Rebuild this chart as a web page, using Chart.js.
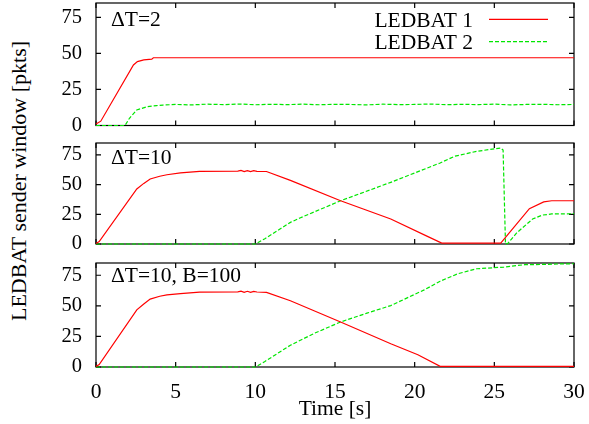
<!DOCTYPE html>
<html>
<head>
<meta charset="utf-8">
<script src="https://cdn.jsdelivr.net/npm/chart.js@4.4.1/dist/chart.umd.min.js"></script>
<style>
html, body { margin:0; padding:0; width:589px; height:424px; overflow:hidden; background:#fff; }
body { position:relative; }
.panel { position:absolute; left:0; width:620px; }
#ytitle { position:absolute; left:19px; top:181px; font-family:'Liberation Serif','Times New Roman',serif; font-size:22px; line-height:1; white-space:nowrap; color:#000; transform:translate(-50%,-50%) rotate(-90deg); }
</style>
</head>
<body>
<div id="ytitle">LEDBAT sender window [pkts]</div>
<div class="panel" id="d1" style="top:-27px;height:183px"><canvas id="c1"></canvas></div>
<div class="panel" id="d2" style="top:113px;height:161px"><canvas id="c2"></canvas></div>
<div class="panel" id="d3" style="top:233px;height:191px"><canvas id="c3"></canvas></div>
<script>
// ---------------- data ----------------
const seriesNames = ['LEDBAT 1', 'LEDBAT 2'];
const panelLabels = ['\u0394T=2', '\u0394T=10', '\u0394T=10, B=100'];
const xTickVals = [0, 5, 10, 15, 20, 25, 30];
const yTickVals = [0, 25, 50, 75];

// Panel 1: dT=2
const p1RedT = [0, 0.3, 2.35, 2.6, 3.0, 3.5, 3.6, 30];
const p1RedV = [1, 3, 42, 44.3, 45.5, 46, 47, 47];
const p1GreenT = [0, 1.82, 2.1, 2.56, 3.2, 3.8, 4.2, 5, 6, 7, 8, 9, 10, 11, 12, 13, 14, 15, 16, 17, 18, 19, 20, 21, 22, 23, 24, 25, 26, 27, 28, 29, 30];
const p1GreenV = [0, 0, 5, 10.8, 13, 13.8, 14.2, 14.6, 14.3, 14.8, 14.5, 14.9, 14.4, 14.7, 14.5, 14.8, 14.4, 14.7, 14.6, 14.3, 14.8, 14.5, 14.6, 14.9, 14.4, 14.7, 14.5, 14.8, 14.3, 14.6, 14.7, 14.4, 14.6];

// Panel 2: dT=10
const p2RedT = [0, 0.2, 2.56, 3.0, 3.4, 4.0, 4.45, 5.3, 6.5, 8.9, 9.1, 9.3, 9.5, 9.7, 9.9, 10.1, 10.7, 12.2, 15.35, 18.5, 20.8, 21.7, 25.4, 27.2, 28.1, 28.6, 30];
const p2RedV = [0.5, 2, 46.3, 51, 54.7, 57, 58.3, 59.8, 61.1, 61.3, 61.9, 60.9, 61.8, 60.9, 61.7, 61.2, 61, 53.5, 36.4, 21, 6.4, 0.8, 0.8, 29.7, 35.4, 36.4, 36.4];
const p2GreenT = [0, 10.0, 10.6, 12.2, 12.8, 15.35, 18.5, 21.6, 22.5, 23.9, 25.4, 25.55, 25.7, 25.85, 26.4, 27.4, 28.0, 28.6, 30];
const p2GreenV = [0, 0, 4.5, 18.2, 21.9, 36.4, 51.9, 68.2, 73.8, 78, 80.8, 79, 0, 0.5, 9.3, 21, 24.3, 25.3, 25.5];

// Panel 3: dT=10, B=100
const p3RedT = [0, 0.2, 2.56, 3.0, 3.4, 4.0, 4.45, 5.3, 6.5, 8.9, 9.1, 9.3, 9.5, 9.7, 9.9, 10.1, 10.7, 12.2, 15.35, 18.5, 20.2, 21.6, 30];
const p3RedV = [0.5, 2, 46.7, 51.5, 55.5, 57.8, 59, 60, 61.2, 61.4, 62, 61, 61.9, 61, 61.8, 61.3, 61, 54.1, 36.8, 19, 10, 0.5, 0.5];
const p3GreenT = [0, 10.0, 10.6, 12.2, 13.7, 15.35, 17, 18.5, 20.6, 21.6, 22.7, 23.9, 25.6, 26.9, 28, 29, 30];
const p3GreenV = [0, 0, 4.5, 17.8, 27.5, 36.8, 44, 50.2, 63, 70.1, 76.2, 80.3, 81.7, 83.6, 83.8, 84.2, 84.4];

// ---------------- styles ----------------
const FONT = "'Liberation Serif', 'Times New Roman', serif";
const RED = '#ff0000';
const GREEN = '#00e600';
const DASH = [4, 2];

function pts(t, v) { return t.map((x, i) => ({ x: x, y: v[i] })); }

function framePlugin(idx) {
  return {
    id: 'frame' + idx,
    beforeDatasetsDraw(chart) {
      const { ctx, chartArea: a, scales: { x, y } } = chart;
      ctx.save();
      ctx.strokeStyle = '#000';
      ctx.lineWidth = 1.2;
      ctx.strokeRect(a.left, a.top, a.right - a.left, a.bottom - a.top);
      ctx.beginPath();
      for (const t of xTickVals) {
        const px = x.getPixelForValue(t);
        ctx.moveTo(px, a.bottom); ctx.lineTo(px, a.bottom - 5);
        ctx.moveTo(px, a.top); ctx.lineTo(px, a.top + 5);
      }
      for (const v of yTickVals) {
        const py = y.getPixelForValue(v);
        ctx.moveTo(a.left, py); ctx.lineTo(a.left + 5, py);
        ctx.moveTo(a.right, py); ctx.lineTo(a.right - 5, py);
      }
      ctx.stroke();
      ctx.restore();
    },
    afterDraw(chart) {
      const { ctx, chartArea: a } = chart;
      ctx.save();
      ctx.fillStyle = '#000';
      ctx.textBaseline = 'alphabetic';
      ctx.font = '21.5px ' + FONT;
      ctx.textAlign = 'left';
      const labelOff = [23, 20.5, 19][idx];
      ctx.fillText(panelLabels[idx], a.left + 15, a.top + labelOff);
      if (idx === 0) {
        ctx.font = '21.5px ' + FONT;
        ctx.textAlign = 'right';
        const rows = [{ base: 24.3, line: 16.3, color: RED, dash: [] },
                      { base: 46, line: 38.6, color: GREEN, dash: DASH }];
        rows.forEach((r, i) => {
          ctx.fillStyle = '#000';
          ctx.fillText(seriesNames[i], a.right - 101, a.top + r.base);
          ctx.beginPath();
          ctx.strokeStyle = r.color;
          ctx.lineWidth = 1.2;
          ctx.setLineDash(r.dash);
          ctx.moveTo(a.right - 85, a.top + r.line);
          ctx.lineTo(a.right - 26, a.top + r.line);
          ctx.stroke();
          ctx.setLineDash([]);
        });
      }
      ctx.restore();
    }
  };
}

function makeChart(canvasId, idx, redT, redV, greenT, greenV, showX, padBottom) {
  return new Chart(document.getElementById(canvasId), {
    type: 'line',
    data: {
      datasets: [
        { label: seriesNames[0], data: pts(redT, redV), borderColor: RED, borderWidth: 1.2, pointRadius: 0, tension: 0, clip: false },
        { label: seriesNames[1], data: pts(greenT, greenV), borderColor: GREEN, borderWidth: 1.2, borderDash: DASH, pointRadius: 0, tension: 0, clip: false }
      ]
    },
    options: {
      responsive: true,
      maintainAspectRatio: false,
      animation: false,
      events: [],
      layout: { padding: { top: 30, bottom: padBottom, left: 0, right: 46 } },
      plugins: { legend: { display: false }, tooltip: { enabled: false } },
      scales: {
        x: {
          type: 'linear', min: 0, max: 30, display: showX,
          grid: { display: false, drawTicks: false },
          border: { display: false },
          ticks: { stepSize: 5, padding: 12, color: '#000', font: { family: FONT, size: 21.5 } },
          title: { display: showX, text: 'Time [s]', color: '#000', font: { family: FONT, size: 21.5 }, padding: { top: 0, bottom: 2 } },
          afterFit(s) { if (showX) s.height = 57; }
        },
        y: {
          type: 'linear', min: 0, max: 85,
          grid: { display: false, drawTicks: false },
          border: { display: false },
          ticks: { stepSize: 25, includeBounds: false, padding: 14, color: '#000', font: { family: FONT, size: 20.5 } },
          afterFit(s) { s.width = 96; }
        }
      }
    },
    plugins: [framePlugin(idx)]
  });
}

function init() {
  makeChart('c1', 0, p1RedT, p1RedV, p1GreenT, p1GreenV, false, 30.5);
  makeChart('c2', 1, p2RedT, p2RedV, p2GreenT, p2GreenV, false, 30);
  makeChart('c3', 2, p3RedT, p3RedV, p3GreenT, p3GreenV, true, 0);
}

let started = false;
function start() { if (!started) { started = true; init(); } }
if (document.fonts && document.fonts.load) {
  Promise.all([
    document.fonts.load('20.5px "Liberation Serif"'),
    document.fonts.load('21.5px "Liberation Serif"', '\u0394T=10')
  ]).then(start, start);
  setTimeout(start, 1500);
} else {
  start();
}
</script>
</body>
</html>
